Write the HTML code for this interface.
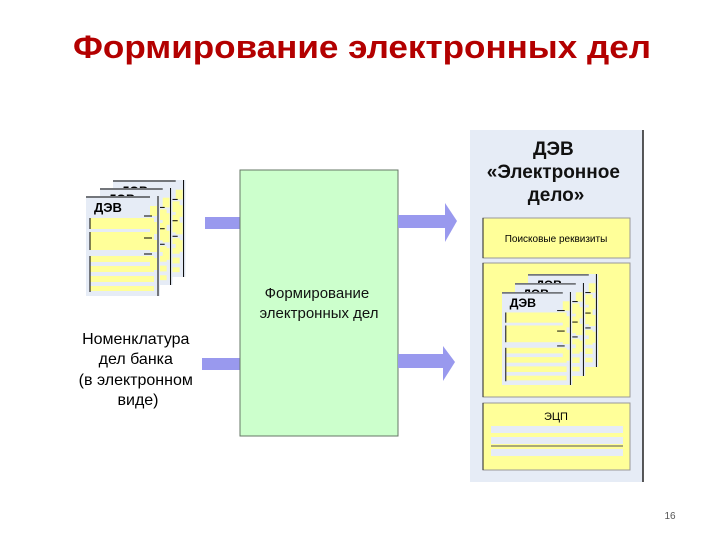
<!DOCTYPE html>
<html><head><meta charset="utf-8"><style>
html,body{margin:0;padding:0;background:#fff;}
svg{display:block;}
text{font-family:"Liberation Sans",sans-serif;}
</style></head><body>
<svg width="720" height="540" viewBox="0 0 720 540" xmlns="http://www.w3.org/2000/svg">
<defs>
<g id="pg">
  <rect x="0" y="0" width="74" height="100" fill="#e6ecf6"/>
  <line x1="0" y1="1" x2="64" y2="1" stroke="#000" stroke-width="1"/>
  <rect x="4" y="22" width="64" height="11" fill="#ffff99"/>
  <rect x="4" y="36" width="64" height="18" fill="#ffff99"/>
  <rect x="4" y="60" width="64" height="6" fill="#ffff99"/>
  <rect x="4" y="70" width="64" height="6" fill="#ffff99"/>
  <rect x="4" y="80" width="64" height="6" fill="#ffff99"/>
  <rect x="4" y="90" width="64" height="5" fill="#ffff99"/>
  <line x1="4" y1="22" x2="4" y2="33" stroke="#000"/>
  <line x1="4" y1="36" x2="4" y2="54" stroke="#000"/>
  <line x1="4" y1="60" x2="4" y2="96" stroke="#000"/>
  <rect x="64" y="10" width="7" height="10" fill="#ffff99"/>
  <rect x="64" y="26" width="7" height="12" fill="#ffff99"/>
  <rect x="64" y="44" width="7" height="12" fill="#ffff99"/>
  <rect x="64" y="62" width="7" height="12" fill="#ffff99"/>
  <line x1="58" y1="20" x2="66" y2="20" stroke="#000"/>
  <line x1="58" y1="42" x2="66" y2="42" stroke="#000"/>
  <line x1="58" y1="58" x2="66" y2="58" stroke="#000"/>
  <line x1="72" y1="0" x2="72" y2="100" stroke="#000"/>
  <text x="8" y="16" font-size="13" font-weight="bold">ДЭВ</text>
</g>
</defs>

<text x="362" y="58" font-size="32" font-weight="bold" fill="#b30000" text-anchor="middle" textLength="578" lengthAdjust="spacingAndGlyphs">Формирование электронных дел</text>

<!-- left stack -->
<use href="#pg" transform="translate(113,180) scale(0.98,0.97)"/>
<use href="#pg" transform="translate(100,188) scale(0.98,0.97)"/>
<use href="#pg" transform="translate(86,196)"/>

<text font-size="16" text-anchor="middle">
  <tspan x="138" y="344">Номенклатура</tspan>
  <tspan x="138" y="364">дел банка</tspan>
  <tspan x="138" y="385">(в электронном</tspan>
  <tspan x="138" y="405">виде)</tspan>
</text>

<!-- left arrows -->
<rect x="205" y="217" width="35" height="12" fill="#9999ee"/>
<rect x="202" y="358" width="38" height="12" fill="#9999ee"/>

<!-- green box -->
<rect x="240" y="170" width="158" height="266" fill="#ccffcc" stroke="#667766" stroke-width="1"/>
<text font-size="15" text-anchor="middle" fill="#111">
  <tspan x="319" y="298">Формирование</tspan>
  <tspan x="319" y="318">электронных дел</tspan>
</text>

<!-- right arrows -->
<rect x="398" y="215" width="48" height="13" fill="#9999ee"/>
<polygon points="445,203 457,221 445,242" fill="#9999ee"/>
<rect x="398" y="354" width="46" height="14" fill="#9999ee"/>
<polygon points="443,346 455,362 443,381" fill="#9999ee"/>

<!-- right panel -->
<rect x="470" y="130" width="173" height="352" fill="#e6ecf6"/>
<line x1="643" y1="130" x2="643" y2="482" stroke="#222" stroke-width="1.5"/>
<text font-size="19" font-weight="bold" text-anchor="middle" fill="#111">
  <tspan x="556" y="155">ДЭВ</tspan>
  <tspan x="556" y="178">«Электронное</tspan>
  <tspan x="556" y="201">дело»</tspan>
</text>

<rect x="483" y="218" width="147" height="40" fill="#ffff99" stroke="#999" stroke-width="1"/>
<line x1="483" y1="218" x2="483" y2="258" stroke="#222"/>
<text x="556" y="242" font-size="10" text-anchor="middle">Поисковые реквизиты</text>

<rect x="483" y="263" width="147" height="134" fill="#ffff99" stroke="#999" stroke-width="1"/>
<line x1="483" y1="263" x2="483" y2="397" stroke="#222"/>
<use href="#pg" transform="translate(528,274) scale(0.95,0.93)"/>
<use href="#pg" transform="translate(515,283) scale(0.95,0.93)"/>
<use href="#pg" transform="translate(502,292) scale(0.95,0.93)"/>

<rect x="483" y="403" width="147" height="67" fill="#ffff99" stroke="#999" stroke-width="1"/>
<line x1="483" y1="403" x2="483" y2="470" stroke="#222"/>
<text x="556" y="420" font-size="11" text-anchor="middle">ЭЦП</text>
<rect x="491" y="426" width="132" height="7" fill="#e6ecf6"/>
<rect x="491" y="437" width="132" height="7" fill="#e6ecf6"/>
<line x1="491" y1="446" x2="623" y2="446" stroke="#555"/>
<rect x="491" y="449" width="132" height="7" fill="#e6ecf6"/>

<text x="670" y="519" font-size="10" fill="#555" text-anchor="middle">16</text>
</svg>
</body></html>
